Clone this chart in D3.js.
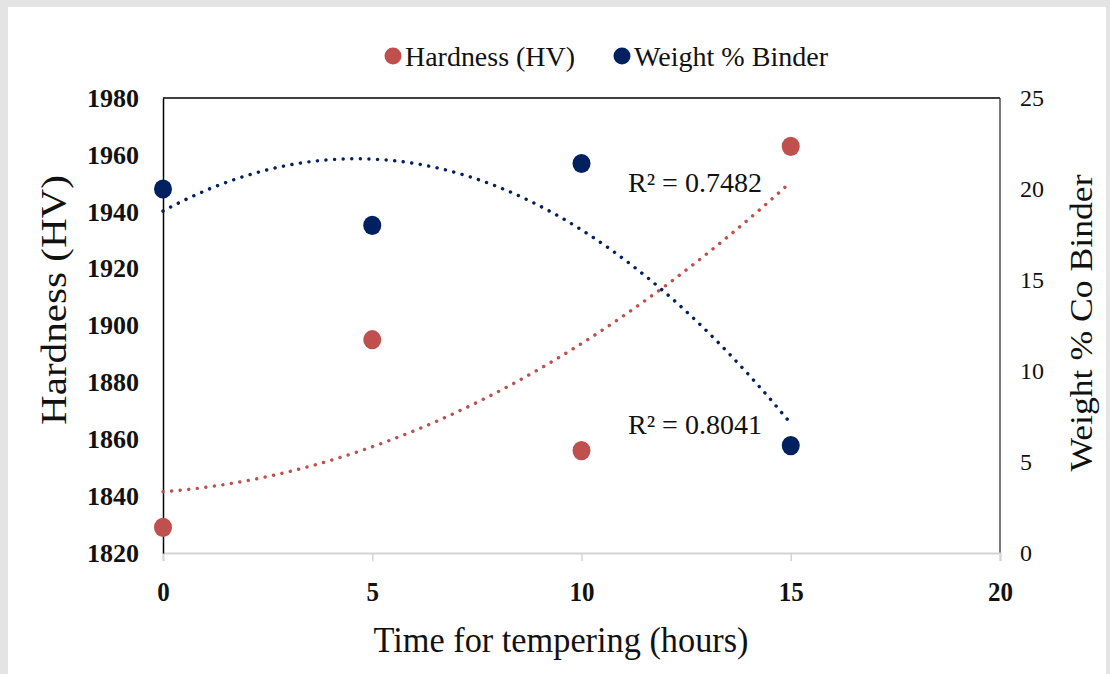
<!DOCTYPE html>
<html>
<head>
<meta charset="utf-8">
<script src="https://cdn.jsdelivr.net/npm/d3@7/dist/d3.min.js"></script>
<style>
  body { margin: 0; background: #e6e6e6; }
  text { font-family: "Liberation Serif", "Times New Roman", serif; fill: #111; }
</style>
</head>
<body>
<div id="chart-area"></div>
<script>
// data
var hours = [0, 5, 10, 15];
var hardness = [1829, 1895, 1856, 1963];
var binder = [20.0, 18.0, 21.4, 5.9];
var r2Labels = ["R\u00b2 = 0.7482", "R\u00b2 = 0.8041"];
var xTicks = [0, 5, 10, 15, 20];
var leftTicks = [1820, 1840, 1860, 1880, 1900, 1920, 1940, 1960, 1980];
var rightTicks = [0, 5, 10, 15, 20, 25];

var W = 1110, H = 674;
var margin = {left: 163, right: 110, top: 98, bottom: 121};
var width = W - margin.left - margin.right,
    height = H - margin.top - margin.bottom;

var svg = d3.select("#chart-area").append("svg")
    .attr("width", W)
    .attr("height", H);

// slide background
svg.append("rect").attr("x", 0).attr("y", 0).attr("width", W).attr("height", H).attr("fill", "#e4e4e4");
svg.append("rect").attr("x", 8).attr("y", 7).attr("width", W - 12).attr("height", H - 7).attr("fill", "#fff");

var g = svg.append("g")
    .attr("transform", "translate(" + margin.left + "," + margin.top + ")");

var x = d3.scaleLinear().domain([0, 20]).range([0, width]);
var yL = d3.scaleLinear().domain([1820, 1980]).range([height, 0]);
var yR = d3.scaleLinear().domain([0, 25]).range([height, 0]);

// frame: top + right black, bottom light grey
g.append("line").attr("x1", 0).attr("x2", width).attr("y1", 0).attr("y2", 0)
    .attr("stroke", "#000").attr("stroke-width", 1.3);
g.append("line").attr("x1", width).attr("x2", width).attr("y1", 0).attr("y2", height)
    .attr("stroke", "#333").attr("stroke-width", 1.3);

// X axis
var xAxis = g.append("g")
    .attr("transform", "translate(0," + height + ")")
    .call(d3.axisBottom(x).tickValues(xTicks).tickFormat(d3.format("d")).tickSize(8).tickPadding(21));
xAxis.select(".domain").attr("stroke", "#d4d4d4").attr("stroke-width", 2);
xAxis.selectAll(".tick line").attr("stroke", "#d4d4d4").attr("stroke-width", 1.5);
xAxis.selectAll("text").attr("font-size", "27px").attr("font-weight", "bold")
    .attr("font-family", "Liberation Serif").attr("fill", "#111")
    .attr("textLength", function(d) { return String(d).length * 12.5; })
    .attr("lengthAdjust", "spacingAndGlyphs");

// Left axis
var lAxis = g.append("g")
    .call(d3.axisLeft(yL).tickValues(leftTicks).tickFormat(d3.format("d")).tickSize(0).tickPadding(24));
lAxis.select(".domain").attr("stroke", "#000").attr("stroke-width", 1.5);
lAxis.selectAll("text").attr("font-size", "26px").attr("font-weight", "bold")
    .attr("font-family", "Liberation Serif").attr("fill", "#111");

// Right axis
var rAxis = g.append("g")
    .attr("transform", "translate(" + width + ",0)")
    .call(d3.axisRight(yR).tickValues(rightTicks).tickFormat(d3.format("d")).tickSize(0).tickPadding(20));
rAxis.select(".domain").remove();
rAxis.selectAll("text").attr("font-size", "24px")
    .attr("font-family", "Liberation Serif").attr("fill", "#111");

// quadratic least-squares fit for trendlines
function quadFit(xs, ys) {
    var n = xs.length, s = [0, 0, 0, 0, 0], t = [0, 0, 0];
    for (var i = 0; i < n; i++) {
        for (var k = 0; k < 5; k++) s[k] += Math.pow(xs[i], k);
        for (var k = 0; k < 3; k++) t[k] += ys[i] * Math.pow(xs[i], k);
    }
    var A = [[s[0], s[1], s[2], t[0]], [s[1], s[2], s[3], t[1]], [s[2], s[3], s[4], t[2]]];
    for (var c = 0; c < 3; c++) {
        for (var r = c + 1; r < 3; r++) {
            var f = A[r][c] / A[c][c];
            for (var k = c; k < 4; k++) A[r][k] -= f * A[c][k];
        }
    }
    var co = [0, 0, 0];
    for (var r = 2; r >= 0; r--) {
        var v = A[r][3];
        for (var k = r + 1; k < 3; k++) v -= A[r][k] * co[k];
        co[r] = v / A[r][r];
    }
    return function(v) { return co[0] + co[1] * v + co[2] * v * v; };
}

var fitH = quadFit(hours, hardness);
var fitB = quadFit(hours, binder);
var xs = d3.range(0, 15.01, 0.1);

var line = d3.line();
g.append("path")
    .attr("d", line(xs.map(v => [x(v), yL(fitH(v))])))
    .attr("fill", "none").attr("stroke", "#C0504D").attr("stroke-width", 3.4)
    .attr("stroke-linecap", "round").attr("stroke-dasharray", "0.1,8.5");
g.append("path")
    .attr("d", line(xs.map(v => [x(v), yR(fitB(v))])))
    .attr("fill", "none").attr("stroke", "#002060").attr("stroke-width", 3.4)
    .attr("stroke-linecap", "round").attr("stroke-dasharray", "0.1,8.5");

// points
g.selectAll(".hard").data(hours).enter().append("ellipse")
    .attr("cx", d => x(d))
    .attr("cy", (d, i) => yL(hardness[i]))
    .attr("rx", 9).attr("ry", 9.6).attr("fill", "#C0504D");
g.selectAll(".bind").data(hours).enter().append("ellipse")
    .attr("cx", d => x(d))
    .attr("cy", (d, i) => yR(binder[i]))
    .attr("rx", 9).attr("ry", 9.6).attr("fill", "#002060");

// R² labels
g.append("text").attr("x", 465).attr("y", 94).attr("font-size", "27px")
    .attr("textLength", 134).attr("lengthAdjust", "spacingAndGlyphs").text(r2Labels[0]);
g.append("text").attr("x", 465).attr("y", 336).attr("font-size", "27px")
    .attr("textLength", 134).attr("lengthAdjust", "spacingAndGlyphs").text(r2Labels[1]);

// axis titles
svg.append("text")
    .attr("transform", "translate(66," + 300 + ") rotate(-90)")
    .attr("text-anchor", "middle").attr("font-size", "36px")
    .attr("textLength", 250).attr("lengthAdjust", "spacingAndGlyphs")
    .text("Hardness (HV)");
svg.append("text")
    .attr("transform", "translate(1092,323) rotate(-90)")
    .attr("text-anchor", "middle").attr("font-size", "31px")
    .attr("textLength", 297).attr("lengthAdjust", "spacingAndGlyphs")
    .text("Weight % Co Binder");
svg.append("text")
    .attr("x", 561).attr("y", 652)
    .attr("text-anchor", "middle").attr("font-size", "35px")
    .attr("textLength", 375).attr("lengthAdjust", "spacingAndGlyphs")
    .text("Time for tempering (hours)");

// legend
var legend = [["Hardness (HV)", "#C0504D", 393, 170], ["Weight % Binder", "#002060", 622, 194]];
legend.forEach(function(l) {
    svg.append("circle").attr("cx", l[2]).attr("cy", 56).attr("r", 8.5).attr("fill", l[1]);
    svg.append("text").attr("x", l[2] + 12).attr("y", 66).attr("font-size", "28px")
        .attr("textLength", l[3]).attr("lengthAdjust", "spacingAndGlyphs").text(l[0]);
});
</script>
</body>
</html>
